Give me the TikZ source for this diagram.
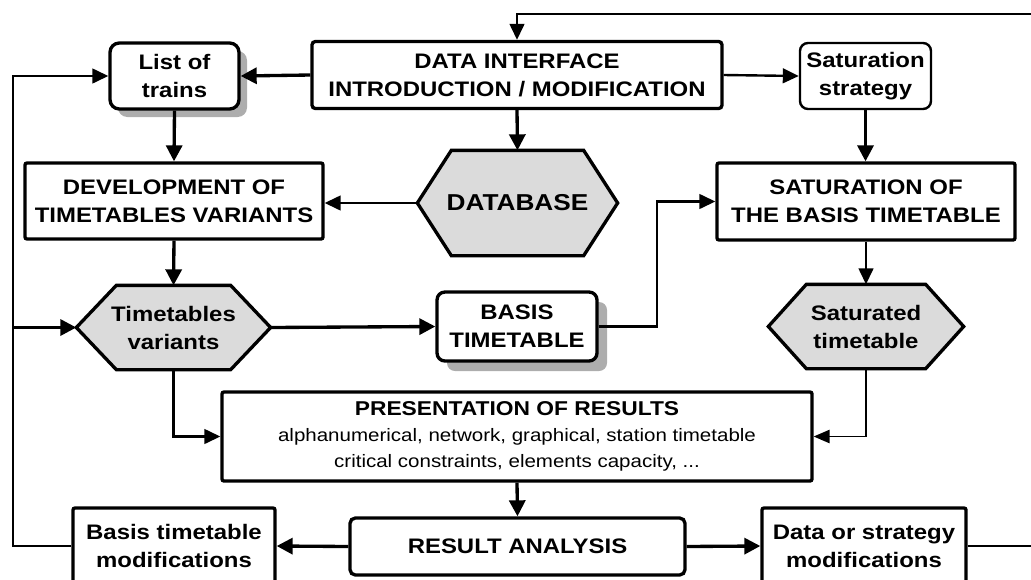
\documentclass[tikz,border=0pt]{standalone}
\usepackage{fontspec}
\setmainfont{Liberation Sans}[FakeStretch=1.14]
\usetikzlibrary{arrows.meta,shadows,backgrounds}
\newcommand\hexpath[2]{\draw[hexa] ([xshift=#2]#1.north west) -- ([xshift=-#2]#1.north east) -- (#1.east) -- ([xshift=-#2]#1.south east) -- ([xshift=#2]#1.south west) -- (#1.west) -- cycle;}
\begin{document}
\begin{tikzpicture}[x=0.75pt,y=-0.75pt,
 every node/.style={inner sep=0pt, align=center},
 big/.style={font=\bfseries\fontsize{15.75}{21}\selectfont},
 wh/.style 2 args={minimum width=#1*0.75pt, minimum height=#2*0.75pt},
 sqbox/.style={draw, line width=2.5pt, rounded corners=1.5pt, fill=white, big},
 rbox/.style={draw, line width=2.5pt, rounded corners=7pt, fill=white, big},
 hexa/.style={draw, line width=2.5pt, fill=gray!28, line join=miter},
 hexnode/.style={big, outer sep=1.25pt},
 conn/.style={line width=2.5pt, -{Triangle[length=12pt,width=12pt]}},
 mconn/.style={line width=1.8pt, -{Triangle[length=12pt,width=11pt]}},
 tconn/.style={line width=1.2pt, -{Triangle[length=12pt,width=10pt]}},
 shad/.style={drop shadow={shadow xshift=#1, shadow yshift=-#1, fill=black!32, opacity=1}}
]
\useasboundingbox (0,0) rectangle (1031,579);
\clip (0,0) rectangle (1031,579);

% nodes
\node[rbox, shad=6pt, wh={129}{66}] (lot) at (174.5,76) {List of\\trains};
\node[sqbox, rounded corners=2.5pt, wh={410}{67}] (di) at (517,75) {DATA INTERFACE\\INTRODUCTION / MODIFICATION};
\node[rbox, line width=1.8pt, rounded corners=6pt, wh={131}{66}] (ss) at (865.5,76) {Saturation\\strategy};
\node[sqbox, wh={298}{76}] (dev) at (174,201) {DEVELOPMENT OF\\TIMETABLES VARIANTS};
\node[hexnode, wh={197}{102}, font=\bfseries\fontsize{17.25}{21}\selectfont] (db) at (517.5,203) {DATABASE};
\node[sqbox, wh={298}{77}] (sat) at (866,201.5) {SATURATION OF\\THE BASIS TIMETABLE};
\node[hexnode, wh={191}{81}] (tv) at (173.5,327.5) {Timetables\\variants};
\node[rbox, shad=7.5pt, rounded corners=6pt, wh={160}{69}] (bt) at (517,326.5) {BASIS\\TIMETABLE};
\node[hexnode, wh={192}{81}] (sd) at (866,326.5) {Saturated\\timetable};
\node[sqbox, wh={590}{89}, font=\fontsize{13.5}{19.5}\selectfont] (pr) at (517,436.5)
  {{\bfseries\fontsize{15}{19.5}\selectfont PRESENTATION OF RESULTS}\\alphanumerical, network, graphical, station timetable\\critical constraints, elements capacity, ...};
\node[sqbox, rounded corners=4pt, wh={335}{57}] (ra) at (517.5,546.5) {RESULT ANALYSIS};
\node[sqbox, wh={202}{76}] (btm) at (174,546) {Basis timetable\\modifications};
\node[sqbox, wh={204}{76}] (dsm) at (864,546) {Data or strategy\\modifications};

\begin{scope}[on background layer]
\hexpath{db}{25.5pt}
\hexpath{tv}{30pt}
\hexpath{sd}{28.5pt}
\end{scope}

% helper coordinates
\coordinate (rt) at (1045,14);
\coordinate (lt) at (13,76);
\coordinate (lm) at (13,327.5);
\coordinate (bj) at (657,326.5);

% connectors
\draw[mconn] (dsm.east) -| (rt) -| (di.north);
\draw[mconn] (btm.west) -| (lt) -- (lot.west);
\draw[conn] (lm) -- (tv.west);
\draw[conn] (di.west) -- (lot.east);
\draw[mconn] (di.east) -- (ss.west);
\draw[conn] (di.south) -- (db.north);
\draw[conn] (lot.south) -- (dev.north);
\draw[mconn] (db.west) -- (db.west -| dev.east);
\draw[conn] (ss.south) -- (ss.south |- sat.north);
\draw[conn] (dev.south) -- (tv.north);
\draw[conn] (tv.east) -- (bt.west);
\draw[mconn] (bt.east) -- (bj) |- (sat.west);
\draw[mconn] (sat.south) -- (sd.north);
\draw[tconn] (sd.south) |- (pr.east);
\draw[mconn] (tv.south) |- (pr.west);
\draw[conn] (pr.south) -- (ra.north);
\draw[conn] (ra.west) -- (btm.east);
\draw[conn] (ra.east) -- (dsm.west);
\end{tikzpicture}
\end{document}
